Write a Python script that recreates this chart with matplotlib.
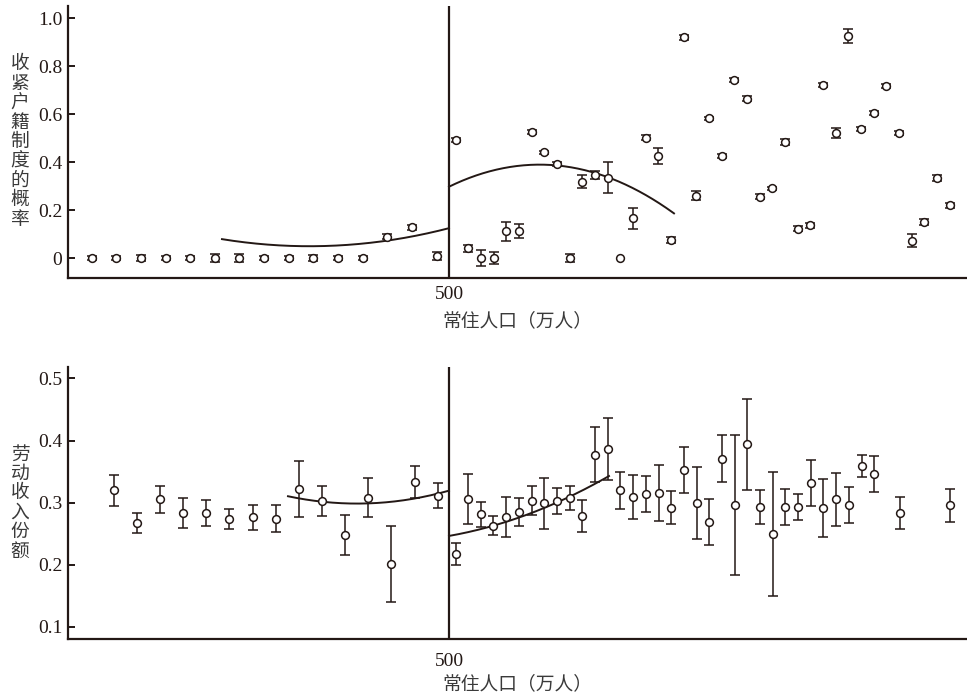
import numpy as np
import matplotlib
matplotlib.use('Agg')
import matplotlib.pyplot as plt

plt.rcParams['font.family'] = ['Liberation Serif', 'Noto Sans CJK SC']

# ---- Data (x: 常住人口, 万人; cutoff at 500) ----
cutoff = 500

# top panel: 收紧户籍制度的概率
top_x = [143, 167, 192, 217, 241, 266, 290, 315, 340, 364, 389, 414, 438, 463, 488,
         507, 519, 532, 545, 557, 570, 583, 595, 608, 621, 633, 646, 659, 671, 684,
         697, 709, 722, 735, 747, 760, 773, 785, 798, 811, 823, 836, 849, 861, 874,
         887, 899, 912, 925, 937, 950, 963, 975, 988, 1001]
top_y = [0, 0, 0, 0, 0, 0, 0, 0, 0, 0, 0, 0, 0.089, 0.129, 0.01,
         0.492, 0.040, 0.0, 0.0, 0.112, 0.112, 0.526, 0.44, 0.392, 0.0,
         0.317, 0.347, 0.335, 0.0, 0.165, 0.501, 0.425, 0.075, 0.92, 0.26,
         0.582, 0.426, 0.742, 0.664, 0.255, 0.29, 0.483, 0.122, 0.136, 0.721,
         0.521, 0.925, 0.537, 0.604, 0.717, 0.522, 0.072, 0.151, 0.332, 0.22]
top_err = [0.008, 0.008, 0.012, 0.008, 0.01, 0.017, 0.017, 0.008, 0.008, 0.012, 0.008, 0.01, 0.01, 0.01, 0.017,
           0.01, 0.015, 0.033, 0.024, 0.04, 0.028, 0.008, 0.008, 0.01, 0.015,
           0.027, 0.016, 0.065, 0.0, 0.045, 0.01, 0.032, 0.012, 0.01, 0.019,
           0.006, 0.008, 0.01, 0.01, 0.01, 0.008, 0.013, 0.01, 0.01, 0.01,
           0.022, 0.028, 0.008, 0.008, 0.008, 0.008, 0.027, 0.012, 0.012, 0.01]
# fitted curves
top_fit_left_x = [273, 330, 364, 410, 438, 500]
top_fit_left_y = [0.078, 0.055, 0.049, 0.058, 0.072, 0.125]
top_fit_right_x = [500, 541, 595, 658, 691, 725]
top_fit_right_y = [0.30, 0.353, 0.399, 0.335, 0.272, 0.189]

# bottom panel: 劳动收入份额
bot_x = [165, 188, 211, 234, 257, 280, 304, 327, 350, 373, 396, 419, 442, 466, 489,
         507, 519, 532, 544, 557, 570, 583, 595, 608, 621, 633, 646, 659, 671, 684,
         697, 710, 722, 735, 748, 760, 773, 786, 798, 811, 824, 836, 849, 862, 874,
         887, 900, 913, 925, 951, 1001]
bot_y = [0.320, 0.267, 0.305, 0.283, 0.283, 0.273, 0.276, 0.274, 0.322, 0.303,
         0.248, 0.308, 0.201, 0.333, 0.311,
         0.217, 0.306, 0.281, 0.263, 0.277, 0.285, 0.303, 0.299, 0.303, 0.307,
         0.278, 0.377, 0.386, 0.320, 0.309, 0.314, 0.315, 0.292, 0.353, 0.299,
         0.269, 0.371, 0.296, 0.394, 0.293, 0.249, 0.293, 0.293, 0.332, 0.291,
         0.305, 0.296, 0.359, 0.346, 0.283, 0.296]
bot_err = [0.025, 0.0165, 0.022, 0.0245, 0.0215, 0.016, 0.02, 0.0215, 0.0445, 0.024,
           0.032, 0.0315, 0.062, 0.0255, 0.02,
           0.018, 0.040, 0.0205, 0.016, 0.032, 0.023, 0.023, 0.041, 0.021, 0.019,
           0.026, 0.044, 0.050, 0.030, 0.036, 0.0285, 0.045, 0.027, 0.037, 0.058,
           0.037, 0.0375, 0.113, 0.073, 0.027, 0.0998, 0.029, 0.0215, 0.037, 0.047,
           0.042, 0.0285, 0.0175, 0.029, 0.026, 0.0266]
bot_fit_left_x = [339, 380, 408, 440, 464, 500]
bot_fit_left_y = [0.310, 0.301, 0.298, 0.300, 0.307, 0.319]
bot_fit_right_x = [500, 544, 595, 633, 660]
bot_fit_right_y = [0.246, 0.263, 0.291, 0.319, 0.343]

dark = '#231815'
label_color = '#3a3a3a'

fig = plt.figure(figsize=(9.67, 6.99), dpi=100)
ax1 = fig.add_axes([0.0703, 0.6023, 0.9297, 0.3891])
ax2 = fig.add_axes([0.0703, 0.0863, 0.9297, 0.3891])


def draw_panel(ax, x, y, err, fits, ylim, yticks, yticklabels, xpad, labelpad):
    x = np.array(x)
    y = np.array(y)
    err = np.array(err)
    has_err = err > 0
    ax.errorbar(x[has_err], y[has_err], yerr=err[has_err], fmt='none',
                ecolor=dark, elinewidth=1.1, capsize=3.6, capthick=1.1, zorder=2)
    ax.plot(x, y, 'o', ms=5.6, mfc='white', mec=dark, mew=1.1, zorder=3)
    for fx, fy in fits:
        coef = np.polyfit(fx, fy, 2)
        xs = np.linspace(min(fx), max(fx), 200)
        ax.plot(xs, np.polyval(coef, xs), color=dark, lw=1.4, zorder=2)
    ax.axvline(cutoff, color=dark, lw=1.6, zorder=4)

    ax.set_xlim(119, 1018)
    ax.set_ylim(*ylim)
    ax.set_yticks(yticks)
    ax.set_yticklabels(yticklabels)
    ax.set_xticks([cutoff])
    ax.set_xticklabels(['500'])
    for s in ['top', 'right']:
        ax.spines[s].set_visible(False)
    for s in ['left', 'bottom']:
        ax.spines[s].set_linewidth(1.6)
        ax.spines[s].set_color(dark)
    ax.tick_params(axis='y', direction='in', length=5, width=1.4, color=dark,
                   labelsize=14, labelcolor=dark, pad=4)
    ax.tick_params(axis='x', direction='in', length=5, width=1.4, color=dark,
                   labelsize=14, labelcolor=dark, pad=xpad)
    ax.set_xlabel('常住人口（万人）', fontsize=13.5, color=label_color,
                  family=['Noto Sans CJK SC'], labelpad=labelpad)


draw_panel(ax1, top_x, top_y, top_err,
           [(top_fit_left_x, top_fit_left_y), (top_fit_right_x, top_fit_right_y)],
           (-0.083, 1.05), [0, 0.2, 0.4, 0.6, 0.8, 1.0],
           ['0', '0.2', '0.4', '0.6', '0.8', '1.0'], 5.5, 5.5)
draw_panel(ax2, bot_x, bot_y, bot_err,
           [(bot_fit_left_x, bot_fit_left_y), (bot_fit_right_x, bot_fit_right_y)],
           (0.0806, 0.519), [0.1, 0.2, 0.3, 0.4, 0.5],
           ['0.1', '0.2', '0.3', '0.4', '0.5'], 10, 2.5)

# vertical y-axis labels (stacked characters)
fig.text(0.0207, 0.7976, '\n'.join('收紧户籍制度的概率'), fontsize=13.5,
         color=label_color, family=['Noto Sans CJK SC'], ha='center', va='center',
         linespacing=0.9)
fig.text(0.0207, 0.2811, '\n'.join('劳动收入份额'), fontsize=13.5,
         color=label_color, family=['Noto Sans CJK SC'], ha='center', va='center',
         linespacing=0.9)

fig.savefig('out.png', dpi=100)
